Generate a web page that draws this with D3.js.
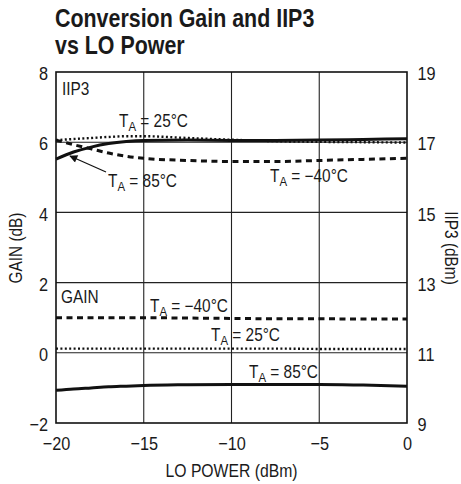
<!DOCTYPE html>
<html>
<head>
<meta charset="utf-8">
<script src="https://cdn.jsdelivr.net/npm/d3@7"></script>
<style>
  body { margin: 0; background: #fff; }
  svg { display: block; }
  text { font-family: "Liberation Sans Narrow", "Arial Narrow", "Liberation Sans", Arial, sans-serif; fill: #1a1a1a; }
</style>
</head>
<body>
<svg id="chart" width="461" height="484"></svg>
<script>
// ---- data ----
const loPower   = [-20, -19, -18, -17, -16, -15, -12.5, -10, -7.5, -5, -2.5, 0];
const iip3_25   = [17.06, 17.09, 17.12, 17.15, 17.17, 17.17, 17.12, 17.07, 17.03, 17.01, 17.0, 16.99];
const iip3_85   = [16.52, 16.72, 16.86, 16.96, 17.02, 17.05, 17.06, 17.05, 17.05, 17.06, 17.08, 17.1];
const iip3_m40  = [17.06, 16.93, 16.81, 16.69, 16.6, 16.54, 16.48, 16.45, 16.45, 16.48, 16.51, 16.54];
const gain_m40  = [1.0, 1.0, 1.0, 1.0, 1.0, 1.0, 0.99, 0.98, 0.97, 0.97, 0.96, 0.96];
const gain_25   = [0.12, 0.12, 0.12, 0.12, 0.12, 0.12, 0.12, 0.12, 0.12, 0.11, 0.11, 0.11];
const gain_85   = [-1.07, -1.03, -1.0, -0.97, -0.95, -0.93, -0.91, -0.9, -0.9, -0.9, -0.92, -0.95];
const xTicks    = [-20, -15, -10, -5, 0];
const gainTicks = [-2, 0, 2, 4, 6, 8];
const iip3Ticks = [9, 11, 13, 15, 17, 19];

// ---- layout ----
const L = 56, R = 407, T = 72, B = 423;
const SX = 0.88;   // horizontal condensing of the regular face
const svg = d3.select("#chart");

const x  = d3.scaleLinear().domain([-20, 0]).range([L, R]);
const yG = d3.scaleLinear().domain([-2, 8]).range([B, T]);
const yI = d3.scaleLinear().domain([9, 19]).range([B, T]);

function txt(xp, yp, str, size, opt = {}) {
  const g = svg.append("g")
    .attr("transform", `translate(${xp},${yp})${opt.rotate ? ` rotate(${opt.rotate})` : ""} scale(${opt.sx || SX},1)`);
  const t = g.append("text").style("font-size", size + "px");
  if (opt.bold) t.style("font-weight", "bold");
  if (opt.anchor) t.attr("text-anchor", opt.anchor);
  if (str !== null) t.text(str);
  return t;
}

// title
txt(55, 27, "Conversion Gain and IIP3", 25.5, { bold: true, sx: 0.84 });
txt(55, 54, "vs LO Power", 25.5, { bold: true, sx: 0.84 });

// grid
const grid = svg.append("g").attr("stroke", "#222").attr("stroke-width", 1.1);
grid.selectAll("line.v").data(xTicks.slice(1, -1)).join("line")
  .attr("x1", d => x(d)).attr("x2", d => x(d)).attr("y1", T).attr("y2", B);
grid.selectAll("line.h").data(gainTicks.slice(1, -1)).join("line")
  .attr("y1", d => yG(d)).attr("y2", d => yG(d)).attr("x1", L).attr("x2", R);

// axes (labels only)
const axL = svg.append("g").attr("transform", `translate(${L},0)`)
  .call(d3.axisLeft(yG).tickValues(gainTicks).tickSize(0).tickPadding(9));
const axR = svg.append("g").attr("transform", `translate(${R},0)`)
  .call(d3.axisRight(yI).tickValues(iip3Ticks).tickSize(0).tickPadding(12));
const axB = svg.append("g").attr("transform", `translate(0,${B})`)
  .call(d3.axisBottom(x).tickValues(xTicks).tickSize(0).tickPadding(14));
[axL, axR, axB].forEach(a => {
  a.select(".domain").remove();
  a.selectAll("text").style("font-size", "18.5px").attr("fill", "#1a1a1a")
    .style("font-family", "'Liberation Sans Narrow','Arial Narrow','Liberation Sans',Arial,sans-serif")
    .attr("transform", `scale(${SX},1)`);
});
axL.selectAll("text").attr("dy", "0.42em");
axR.selectAll("text").attr("dy", "0.42em");

// frame
svg.append("rect").attr("x", L).attr("y", T).attr("width", R - L).attr("height", B - T)
  .attr("fill", "none").attr("stroke", "#111").attr("stroke-width", 1.6);

// axis titles
txt(22, 248, "GAIN (dB)", 17.5, { rotate: -90, anchor: "middle" });
txt(445, 248, "IIP3 (dBm)", 17.5, { rotate: 90, anchor: "middle" });
txt((L + R) / 2, 477, "LO POWER (dBm)", 17.5, { anchor: "middle", sx: 0.9 });

// curves
function draw(vals, yScale, style) {
  const line = d3.line().x((d, i) => x(loPower[i])).y(d => yScale(d)).curve(d3.curveMonotoneX);
  const p = svg.append("path").datum(vals).attr("d", line)
    .attr("fill", "none").attr("stroke", "#111");
  if (style === "solid") p.attr("stroke-width", 3);
  if (style === "dashed") p.attr("stroke-width", 3).attr("stroke-dasharray", "6,4.5");
  if (style === "dotted") p.attr("stroke-width", 2.4).attr("stroke-dasharray", "2,2.4");
}
draw(iip3_m40, yI, "dashed");
draw(iip3_25, yI, "dotted");
draw(iip3_85, yI, "solid");
draw(gain_m40, yG, "dashed");
draw(gain_25, yG, "dotted");
draw(gain_85, yG, "solid");

// labels
function taLabel(xp, yp, rest) {
  const t = txt(xp, yp, null, 17.5);
  t.append("tspan").text("T");
  t.append("tspan").attr("dy", 4).style("font-size", "13px").text("A");
  t.append("tspan").attr("dy", -4).text(" = " + rest);
}
txt(62, 95, "IIP3", 17.5);
txt(61, 303, "GAIN", 17.5);
taLabel(119, 127, "25°C");
taLabel(108, 187, "85°C");
taLabel(270, 182, "−40°C");
taLabel(150, 312, "−40°C");
taLabel(211, 341, "25°C");
taLabel(249, 378, "85°C");

// arrow
const defs = svg.append("defs");
defs.append("marker").attr("id", "ah").attr("viewBox", "0 0 10 10").attr("refX", 9).attr("refY", 5)
  .attr("markerWidth", 10).attr("markerHeight", 8).attr("markerUnits", "userSpaceOnUse").attr("orient", "auto")
  .append("path").attr("d", "M0,0 L10,5 L0,10 Z").attr("fill", "#111");
svg.append("line").attr("x1", 106).attr("y1", 172).attr("x2", 70).attr("y2", 156)
  .attr("stroke", "#111").attr("stroke-width", 1.3).attr("marker-end", "url(#ah)");
</script>
</body>
</html>
